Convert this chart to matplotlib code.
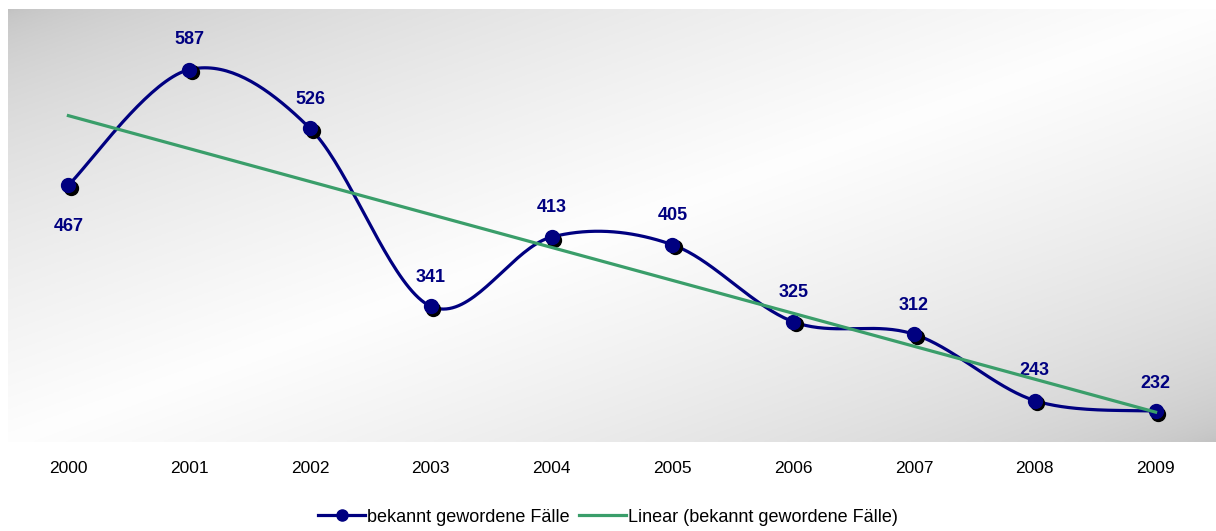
import numpy as np
import matplotlib.pyplot as plt
from matplotlib import transforms

plt.rcParams['font.family'] = ['Liberation Sans', 'DejaVu Sans']

years = ['2000', '2001', '2002', '2003', '2004', '2005', '2006', '2007', '2008', '2009']
faelle = [467, 587, 526, 341, 413, 405, 325, 312, 243, 232]
# label offset in points (negative = below the point)
label_dy = [-30, 22, 21, 21, 21, 21, 21, 21, 22, 20]

navy = '#000080'
green = '#3a9e6a'


def smooth(xs, ys, n=40):
    # catmull-rom, like the smoothed line of a spreadsheet chart
    p = np.column_stack([xs, ys]).astype(float)
    p = np.vstack([p[0], p, p[-1]])
    out = []
    t = np.linspace(0, 1, n)[:, None]
    for i in range(1, len(p) - 2):
        p0, p1, p2, p3 = p[i - 1], p[i], p[i + 1], p[i + 2]
        seg = 0.5 * ((2 * p1) + (-p0 + p2) * t + (2 * p0 - 5 * p1 + 4 * p2 - p3) * t ** 2
                     + (-p0 + 3 * p1 - 3 * p2 + p3) * t ** 3)
        out.append(seg)
    out = np.vstack(out)
    return out[:, 0], out[:, 1]


fig = plt.figure(figsize=(12.16, 5.31), dpi=100)
ax = fig.add_axes([8 / 1216, 89 / 531, 1208 / 1216, 433 / 531])

x = np.arange(len(years))
ax.set_xlim(-0.5, len(years) - 0.5)
ax.set_ylim(200, 650)

# background gradient: grey top-left, white across the diagonal, grey bottom-right
H, W = 200, 400
gx = np.linspace(0, 1, W)[None, :]
gy = np.linspace(0, 1, H)[:, None]
tt = gx + gy
light = 1 - np.abs(tt - 1)
g = 0.76 + (0.995 - 0.76) * np.clip(light, 0, 1) ** 0.6
img = np.dstack([g, g, g])
ax.imshow(img, extent=(-0.5, len(years) - 0.5, 200, 650), aspect='auto', origin='upper', zorder=0)

sx, sy = smooth(x, faelle)
ax.plot(sx, sy, color=navy, lw=2.3, zorder=2, solid_capstyle='round')

shadow = transforms.offset_copy(ax.transData, fig=fig, x=1.8, y=-1.8, units='points')
ax.plot(x, faelle, 'o', color='black', ms=10, transform=shadow, zorder=3)
ax.plot(x, faelle, 'o', color=navy, ms=10, zorder=4)

k, d = np.polyfit(x, faelle, 1)
ax.plot(x, k * x + d, color=green, lw=2.3, zorder=5)

for xi, v, dy in zip(x, faelle, label_dy):
    ax.annotate(str(v), (xi, v), xytext=(0, dy), textcoords='offset points',
                ha='center', va='center', fontsize=13, fontweight='bold', color=navy)

ax.set_xticks(x)
ax.set_xticklabels(years, fontsize=12.5)
ax.tick_params(axis='x', length=0, pad=14)
ax.set_yticks([])
for s in ax.spines.values():
    s.set_visible(False)

h1, = ax.plot([], [], color=navy, lw=2.3, marker='o', ms=8, label='bekannt gewordene Fälle')
h2, = ax.plot([], [], color=green, lw=2.3, label='Linear (bekannt gewordene Fälle)')
fig.legend(handles=[h1, h2], loc='center', bbox_to_anchor=(0.5, 14 / 531), ncol=2, frameon=False,
           fontsize=13, handlelength=2.6, handletextpad=0.1, columnspacing=0.5)

fig.savefig('out.png', dpi=100)
